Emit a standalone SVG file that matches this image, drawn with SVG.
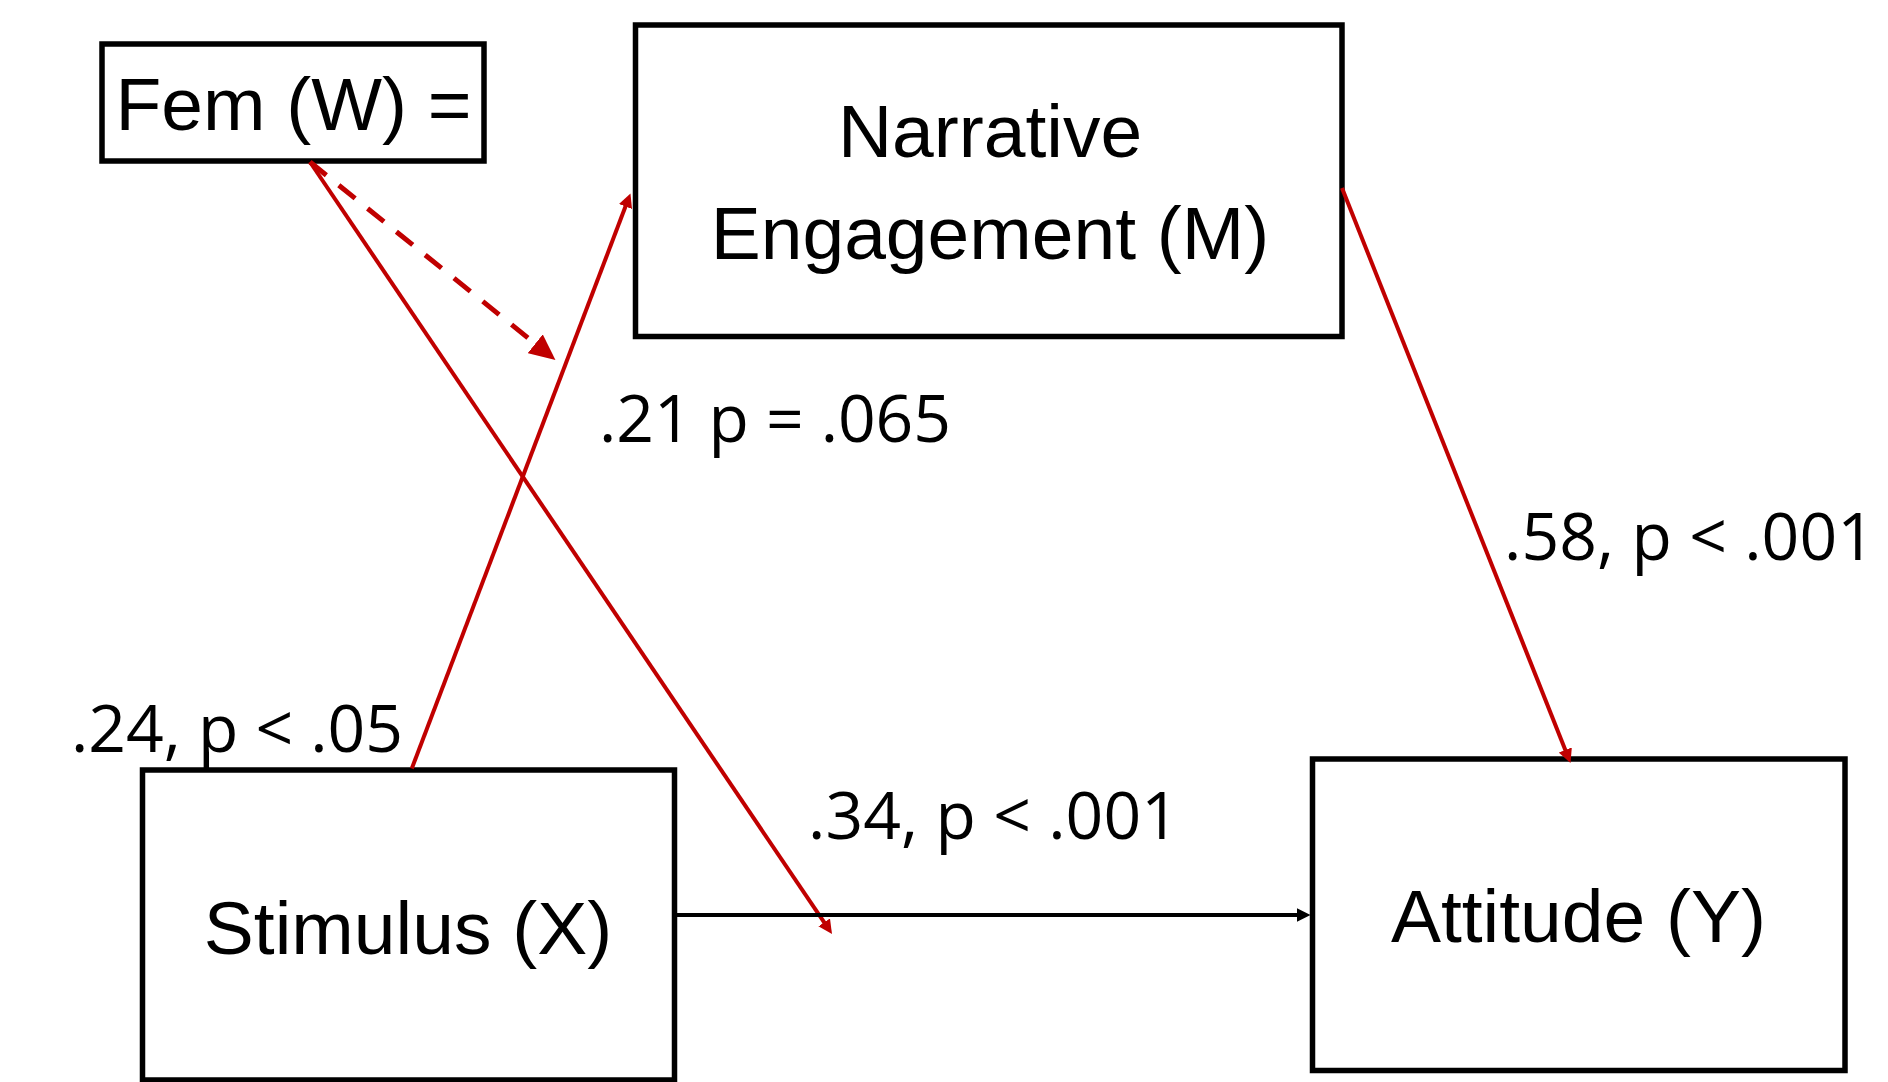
<svg xmlns="http://www.w3.org/2000/svg" width="1888" height="1082" viewBox="0 0 1888 1082">
  <defs>
    <style>
      .box { fill: #ffffff; stroke: #000000; stroke-width: 5.5; }
      .node-text { font-family: "Liberation Sans", Arial, sans-serif; font-size: 75px; fill: #000000; text-anchor: middle; }
      .label { font-family: "Open Sans", "Noto Sans", sans-serif; font-size: 66px; fill: #000000; }
      .red { stroke: #C00000; stroke-width: 4; fill: none; }
      .black { stroke: #000000; stroke-width: 4; fill: none; }
      .dashed { stroke: #C00000; stroke-width: 5; fill: none; stroke-dasharray: 21 16; }
    </style>
    <marker id="arrowRed" viewBox="0 0 14 14" refX="4" refY="7" markerWidth="14" markerHeight="14" markerUnits="userSpaceOnUse" orient="auto">
      <path d="M0,0 L14,7 L0,14 Z" fill="#C00000"/>
    </marker>
    <marker id="arrowBlack" viewBox="0 0 14 14" refX="4" refY="7" markerWidth="14" markerHeight="14" markerUnits="userSpaceOnUse" orient="auto">
      <path d="M0,0 L14,7 L0,14 Z" fill="#000000"/>
    </marker>
    <marker id="arrowRedBig" viewBox="0 0 26 24" refX="10" refY="12" markerWidth="26" markerHeight="24" markerUnits="userSpaceOnUse" orient="auto">
      <path d="M0,0 L26,12 L0,24 Z" fill="#C00000"/>
    </marker>
  </defs>

  <rect width="1888" height="1082" fill="#ffffff"/>

  <g id="node-fem">
    <rect class="box" x="102" y="44" width="382" height="117"/>
    <text class="node-text" x="293.5" y="130">Fem (W) =</text>
  </g>

  <g id="node-narrative">
    <rect class="box" x="635.5" y="25" width="706.5" height="311.5"/>
    <text class="node-text" x="990" y="156.5">Narrative</text>
    <text class="node-text" x="990" y="258.5">Engagement (M)</text>
  </g>

  <g id="node-stimulus">
    <rect class="box" x="142.5" y="770" width="532" height="310"/>
    <text class="node-text" x="408" y="953.5">Stimulus (X)</text>
  </g>

  <g id="node-attitude">
    <rect class="box" x="1312.5" y="759" width="532.5" height="311.5"/>
    <text class="node-text" x="1578.5" y="941.7">Attitude (Y)</text>
  </g>

  <g id="connectors">
    <line class="red" x1="411.8" y1="768.5" x2="626.9" y2="202.8" marker-end="url(#arrowRed)"/>
    <line class="red" x1="1342" y1="188" x2="1566.8" y2="753.7" marker-end="url(#arrowRed)"/>
    <line class="red" x1="310" y1="162" x2="826.4" y2="925.7" marker-end="url(#arrowRed)"/>
    <line class="dashed" x1="310" y1="162" x2="543" y2="350" marker-end="url(#arrowRedBig)"/>
    <line class="black" x1="676" y1="915" x2="1300.5" y2="915" marker-end="url(#arrowBlack)"/>
  </g>

  <g id="labels">
    <text class="label" x="599" y="442" textLength="352" lengthAdjust="spacing">.21 p = .065</text>
    <text class="label" x="1504" y="560" textLength="371" lengthAdjust="spacing">.58, p &lt; .001</text>
    <text class="label" x="808" y="839" textLength="371" lengthAdjust="spacing">.34, p &lt; .001</text>
    <text class="label" x="71" y="752" textLength="332" lengthAdjust="spacing">.24, p &lt; .05</text>
  </g>
</svg>
